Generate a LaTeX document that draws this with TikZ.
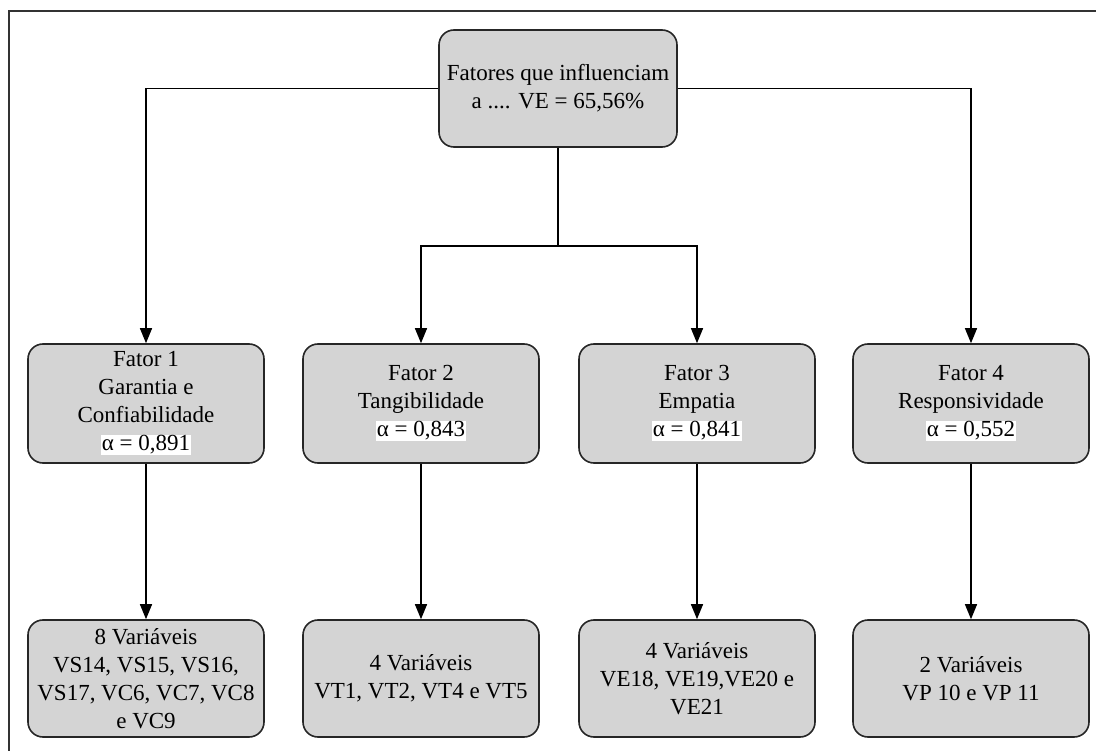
\documentclass[tikz,border=0pt]{standalone}
\usepackage{fontspec}
\setmainfont{Liberation Serif}
\usetikzlibrary{arrows.meta}
\definecolor{boxgray}{RGB}{212,212,212}
\newcommand{\alphatag}[1]{{\setlength{\fboxsep}{1pt}\colorbox{white}{#1}}}
\begin{document}
\begin{tikzpicture}[x=1pt,y=-1pt,
  box/.style={draw=black!85, line width=1.6pt, fill=boxgray, rounded corners=15pt,
    minimum width=236pt, minimum height=119pt, align=center, inner sep=2pt,
    font=\fontsize{23}{28}\selectfont},
  link/.style={draw=black, line width=1.4pt},
  arr/.style={link, -{Triangle[length=15pt,width=12pt]}}]
\useasboundingbox (0,0) rectangle (1096,751);
% outer frame
\draw[line width=1.8pt, black!80] (9,751) -- (9,11) -- (1096,11);

% root
\node[box, minimum width=238pt, minimum height=117pt] (top) at (558,88.5)
  {Fatores que influenciam\\a .... VE = 65,56\%};

% factors
\node[box] (f1) at (146,403.5) {Fator 1\\Garantia e\\Confiabilidade\\\alphatag{α = 0,891}};
\node[box] (f2) at (421,403.5) {Fator 2\\Tangibilidade\\\alphatag{α = 0,843}};
\node[box] (f3) at (697,403.5) {Fator 3\\Empatia\\\alphatag{α = 0,841}};
\node[box] (f4) at (971,403.5) {Fator 4\\Responsividade\\\alphatag{α = 0,552}};

% variable groups
\node[box, minimum height=117pt] (v1) at (146,678.5) {8 Variáveis\\VS14, VS15, VS16,\\VS17, VC6, VC7, VC8\\e VC9};
\node[box, minimum height=117pt] (v2) at (421,678.5) {4 Variáveis\\VT1, VT2, VT4 e VT5};
\node[box, minimum height=117pt] (v3) at (697,678.5) {4 Variáveis\\VE18, VE19,VE20 e\\VE21};
\node[box, minimum height=117pt] (v4) at (971,678.5) {2 Variáveis\\VP 10 e VP 11};

% connectors
\coordinate (split) at (558,246);
\draw[arr] (top.west) -| (f1.north);
\draw[arr] (top.east) -| (f4.north);
\draw[link] (top.south) -- (split);
\draw[arr] (split) -| (f2.north);
\draw[arr] (split) -| (f3.north);
\draw[arr] (f1.south) -- (v1.north);
\draw[arr] (f2.south) -- (v2.north);
\draw[arr] (f3.south) -- (v3.north);
\draw[arr] (f4.south) -- (v4.north);
\end{tikzpicture}
\end{document}
